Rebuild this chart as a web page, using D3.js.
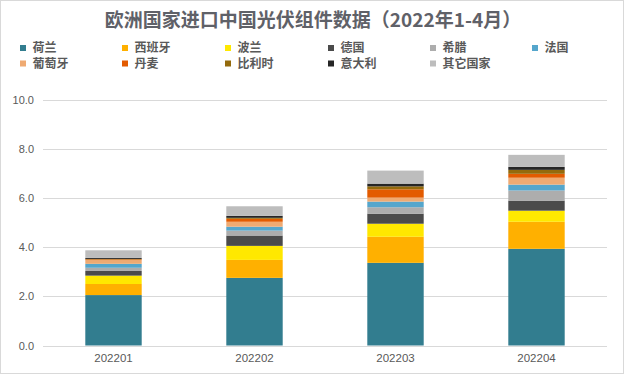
<!DOCTYPE html>
<html><head><meta charset="utf-8">
<script src="https://cdn.jsdelivr.net/npm/d3@7"></script>
<style>body{margin:0;background:#fff}svg{display:block}</style>
</head><body>
<svg id="c" width="624" height="375"></svg>
<script>
const categories = ["202201","202202","202203","202204"];
const seriesNames = ["荷兰","西班牙","波兰","德国","希腊","法国","葡萄牙","丹麦","比利时","意大利","其它国家"];
const seriesColors = ["#327D8F","#FFB000","#FFE800","#4B4B4B","#ADADAD","#55A6CC","#EFAA72","#E35B00","#946A0C","#262626","#BDBDBD"];
const netherlands = [2.05, 2.75, 3.36, 3.93];
const spain       = [0.45, 0.73, 1.06, 1.10];
const poland      = [0.34, 0.57, 0.53, 0.45];
const germany     = [0.19, 0.42, 0.41, 0.41];
const greece      = [0.13, 0.20, 0.26, 0.41];
const france      = [0.16, 0.16, 0.23, 0.24];
const portugal    = [0.15, 0.20, 0.16, 0.28];
const denmark     = [0.03, 0.12, 0.34, 0.16];
const belgium     = [0.02, 0.04, 0.12, 0.16];
const italy       = [0.04, 0.08, 0.11, 0.12];
const others      = [0.31, 0.39, 0.53, 0.49];
const yTicks = [0, 2, 4, 6, 8, 10];

const seriesValues = [netherlands, spain, poland, germany, greece, france, portugal, denmark, belgium, italy, others];
const rows = categories.map((c, i) => {
  const r = {cat: c};
  seriesNames.forEach((s, j) => r[s] = seriesValues[j][i]);
  return r;
});
const stacked = d3.stack().keys(seriesNames)(rows);

const svg = d3.select("#c");
const font = "'Microsoft YaHei','Noto Sans CJK SC',sans-serif";
svg.append("rect").attr("x",0.5).attr("y",0.5).attr("width",623).attr("height",373)
  .attr("fill","#fff").attr("stroke","#D9D9D9");

svg.append("text").attr("x", 313).attr("y", 20).attr("dy","0.36em").attr("text-anchor","middle")
  .attr("font-family", font).attr("font-size", 19).attr("font-weight","bold")
  .attr("fill","#5F6168").text("欧洲国家进口中国光伏组件数据（2022年1-4月）");

const x = d3.scaleBand().domain(categories).range([43, 607]).paddingInner(0.6).paddingOuter(0.3);
const y = d3.scaleLinear().domain([0, 10]).range([345.5, 99.5]);

// gridlines
svg.append("g").selectAll("line").data(yTicks).join("line")
  .attr("x1", 43).attr("x2", 607)
  .attr("y1", d => Math.round(y(d)) + 0.5).attr("y2", d => Math.round(y(d)) + 0.5)
  .attr("stroke", "#D9D9D9").attr("stroke-width", 1);

// y axis labels
const yAxis = d3.axisLeft(y).tickValues(yTicks).tickFormat(d3.format(".1f")).tickSize(0).tickPadding(9);
const ya = svg.append("g").attr("transform","translate(43,0)").call(yAxis);
ya.select(".domain").remove();
ya.selectAll("text").attr("font-family","Arial, 'Liberation Sans', sans-serif").attr("font-size",11).attr("fill","#595959");

// x axis labels
const xAxis = d3.axisBottom(x).tickSize(0).tickPadding(8);
const xa = svg.append("g").attr("transform","translate(0,346)").call(xAxis);
xa.select(".domain").remove();
xa.selectAll("text").attr("font-family","Arial, 'Liberation Sans', sans-serif").attr("font-size",11.5).attr("fill","#595959");

// bars
svg.append("g").selectAll("g").data(stacked).join("g")
  .attr("fill", (d, i) => seriesColors[i])
  .selectAll("rect").data(d => d).join("rect")
  .attr("x", d => x(d.data.cat))
  .attr("width", x.bandwidth())
  .attr("y", d => y(d[1]))
  .attr("height", d => y(d[0]) - y(d[1]));

// legend
const legX = [20, 122, 225, 328, 430, 532];
const leg = svg.append("g");
seriesNames.forEach((s, i) => {
  const col = i < 6 ? i : i - 6;
  const row = i < 6 ? 0 : 1;
  const lx = legX[col];
  const ly = 48 + row * 15.5;
  const g = leg.append("g").attr("transform", `translate(${lx},${ly})`);
  g.append("rect").attr("x", 0).attr("y", -3).attr("width", 6).attr("height", 6).attr("fill", seriesColors[i]);
  g.append("text").attr("x", 12.5).attr("y", 0).attr("dy", "0.36em")
    .attr("font-family", font).attr("font-size", 12).attr("font-weight","bold").attr("fill","#595959").text(s);
});
</script>
</body></html>
